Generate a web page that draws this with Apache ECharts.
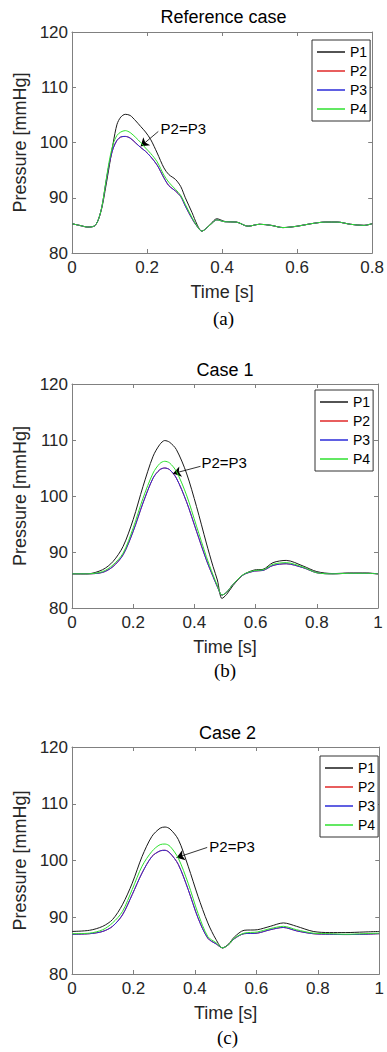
<!DOCTYPE html>
<html><head><meta charset="utf-8">
<script src="https://cdn.jsdelivr.net/npm/echarts@6/dist/echarts.min.js"></script>
<style>html,body{margin:0;padding:0;background:#fff}#c{width:387px;height:1052px}</style>
</head><body><div id="c"></div>
<script>
// ---------- Data ----------
const panelTitles = ['Reference case', 'Case 1', 'Case 2'];
const panelTags = ['(a)', '(b)', '(c)'];
const seriesNames = ['P1', 'P2', 'P3', 'P4'];
const xMax = [0.8, 1, 1];
const yTicks = [80, 90, 100, 110, 120];

// Panel (a) - Reference case
const tA = [0, 0.02, 0.042, 0.06, 0.07, 0.08, 0.09, 0.1, 0.11, 0.12, 0.13, 0.142, 0.155, 0.17, 0.183, 0.196, 0.21, 0.227, 0.245, 0.258, 0.276, 0.29, 0.302, 0.32, 0.333, 0.346, 0.36, 0.37, 0.386, 0.408, 0.438, 0.469, 0.5, 0.531, 0.562, 0.6, 0.637, 0.676, 0.707, 0.742, 0.778, 0.8];
const p1A = [85.3, 85.0, 84.7, 84.9, 86.0, 88.3, 92.0, 96.0, 100.0, 103.3, 104.6, 105.1, 104.9, 103.9, 102.9, 101.9, 100.5, 98.1, 95.4, 94.2, 93.3, 92.0, 90.0, 87.3, 85.2, 83.95, 84.6, 85.3, 86.2, 85.7, 85.6, 84.85, 85.2, 85.0, 84.6, 84.85, 85.3, 85.6, 85.6, 85.2, 85.0, 85.3];
const p2A = [85.3, 85.0, 84.7, 84.9, 86.0, 88.5, 92.6, 96.4, 99.0, 100.4, 101.0, 101.1, 100.8, 99.9, 99.1, 98.4, 97.4, 95.9, 93.6, 92.2, 91.2, 90.2, 88.5, 86.2, 84.85, 83.95, 84.6, 85.2, 86.0, 85.65, 85.6, 84.85, 85.2, 85.0, 84.6, 84.85, 85.3, 85.6, 85.6, 85.2, 85.0, 85.3];
const p3A = [85.3, 85.0, 84.7, 84.9, 86.0, 88.5, 92.6, 96.4, 99.0, 100.4, 101.0, 101.1, 100.8, 99.9, 99.1, 98.4, 97.4, 95.9, 93.6, 92.2, 91.2, 90.2, 88.5, 86.2, 84.85, 83.95, 84.6, 85.2, 86.0, 85.65, 85.6, 84.85, 85.2, 85.0, 84.6, 84.85, 85.3, 85.6, 85.6, 85.2, 85.0, 85.3];
const p4A = [85.3, 85.0, 84.7, 84.9, 86.0, 88.5, 92.8, 96.9, 99.8, 101.3, 101.9, 102.15, 101.8, 100.9, 100.0, 99.0, 98.0, 96.5, 94.1, 92.8, 91.5, 90.4, 88.8, 86.4, 84.9, 83.95, 84.6, 85.2, 86.0, 85.65, 85.6, 84.85, 85.2, 85.0, 84.6, 84.85, 85.3, 85.6, 85.6, 85.2, 85.0, 85.3];

// Panel (b) - Case 1
const tB = [0, 0.05, 0.1, 0.134, 0.167, 0.2, 0.232, 0.265, 0.287, 0.303, 0.319, 0.341, 0.374, 0.407, 0.439, 0.461, 0.475, 0.49, 0.505, 0.526, 0.559, 0.597, 0.624, 0.657, 0.7, 0.755, 0.8, 0.853, 0.907, 0.962, 1];
const p1B = [86.1, 86.1, 86.84, 88.3, 91.0, 95.8, 101.7, 107.1, 109.2, 109.9, 109.6, 108.3, 104.1, 98.1, 91.6, 87.4, 85.0, 81.7, 82.4, 84.0, 85.9, 86.8, 86.9, 88.1, 88.5, 87.5, 86.5, 86.15, 86.25, 86.25, 86.1];
const p2B = [86.1, 86.1, 86.36, 87.4, 89.5, 93.7, 98.75, 103.2, 104.7, 105.0, 104.7, 103.2, 99.0, 93.7, 88.6, 85.6, 83.8, 82.3, 82.8, 84.2, 85.9, 86.6, 86.7, 87.6, 87.9, 87.2, 86.3, 86.1, 86.2, 86.2, 86.1];
const p3B = [86.1, 86.1, 86.36, 87.4, 89.5, 93.7, 98.75, 103.2, 104.7, 105.0, 104.7, 103.2, 99.0, 93.7, 88.6, 85.6, 83.8, 82.3, 82.8, 84.2, 85.9, 86.6, 86.7, 87.6, 87.9, 87.2, 86.3, 86.1, 86.2, 86.2, 86.1];
const p4B = [86.1, 86.1, 86.5, 87.7, 89.8, 94.3, 99.6, 104.1, 105.8, 106.2, 105.9, 104.4, 100.2, 94.6, 89.2, 85.9, 84.0, 82.3, 82.8, 84.2, 85.95, 86.7, 86.8, 87.8, 88.1, 87.3, 86.3, 86.1, 86.2, 86.2, 86.1];

// Panel (c) - Case 2
const tC = [0, 0.057, 0.1, 0.132, 0.164, 0.196, 0.228, 0.26, 0.287, 0.303, 0.319, 0.346, 0.378, 0.41, 0.442, 0.469, 0.49, 0.51, 0.528, 0.56, 0.603, 0.645, 0.688, 0.731, 0.785, 0.838, 0.891, 0.95, 1];
const p1C = [87.5, 87.7, 88.4, 89.6, 92.2, 96.0, 100.7, 104.25, 105.7, 105.9, 105.55, 103.7, 99.0, 93.7, 89.0, 86.05, 84.6, 85.3, 86.5, 87.7, 87.8, 88.4, 89.0, 88.4, 87.5, 87.3, 87.3, 87.4, 87.5];
const p2C = [87.0, 87.1, 87.5, 88.4, 90.4, 94.0, 97.8, 100.7, 101.7, 101.8, 101.3, 99.3, 94.9, 89.9, 86.3, 85.3, 84.6, 85.2, 86.2, 87.1, 87.2, 87.8, 88.2, 87.6, 87.1, 87.0, 86.95, 87.0, 87.1];
const p3C = [87.0, 87.1, 87.5, 88.4, 90.4, 94.0, 97.8, 100.7, 101.7, 101.8, 101.3, 99.3, 94.9, 89.9, 86.3, 85.3, 84.6, 85.2, 86.2, 87.1, 87.2, 87.8, 88.2, 87.6, 87.1, 87.0, 86.95, 87.0, 87.1];
const p4C = [87.1, 87.2, 87.8, 89.0, 91.0, 94.9, 99.0, 101.6, 102.8, 102.9, 102.5, 100.4, 96.0, 90.7, 86.6, 85.5, 84.6, 85.2, 86.3, 87.2, 87.4, 88.0, 88.4, 87.8, 87.2, 87.1, 87.0, 87.1, 87.2];

// Annotation "P2=P3": arrow start, arrow tip, text anchor (data units)
const arrowStart = [[0.23, 102.0], [0.42, 105.3], [0.44, 102.3]];
const arrowTip = [[0.183, 99.3], [0.33, 104.0], [0.34, 100.5]];
const noteAnchor = [[0.236, 102.5], [0.423, 106.0], [0.447, 102.5]];
const noteText = 'P2=P3';

// ---------- Chart ----------
const FONT = 'Liberation Sans, Arial, Helvetica, sans-serif';
const colors = ['#1a1a1a', '#e02828', '#2b2bd8', '#2fe02f'];
const times = [tA, tB, tC];
const values = [[p1A, p2A, p3A, p4A], [p1B, p2B, p3B, p4B], [p1C, p2C, p3C, p4C]];

const grids = [
  {left: 72, top: 32, width: 303, height: 221},
  {left: 72, top: 384, width: 306, height: 224},
  {left: 72, top: 747, width: 311, height: 227}
];
const legendPos = [{left: 312, top: 40}, {left: 315, top: 390}, {left: 320, top: 756}];
const titleY = [17, 370, 733];
const tagY = [318, 670, 1037];
const axisCol = '#808080';

const xAxes = [], yAxes = [], series = [], legends = [], graphics = [];
for (let g = 0; g < 3; g++) {
  for (const primary of [true, false]) {
    xAxes.push({
      type: 'value', gridIndex: g, min: 0, max: xMax[g], interval: 0.2,
      position: primary ? 'bottom' : 'top',
      axisLine: {show: true, onZero: false, lineStyle: {color: axisCol, width: 1}},
      axisTick: {show: true, inside: true, length: 4, lineStyle: {color: axisCol}},
      axisLabel: {show: primary, fontSize: 17, color: '#262626', margin: 6, fontFamily: FONT},
      splitLine: {show: false},
      name: primary ? 'Time [s]' : '', nameLocation: 'middle', nameGap: 30,
      nameTextStyle: {fontSize: 18, color: '#262626', fontFamily: FONT}
    });
    yAxes.push({
      type: 'value', gridIndex: g, min: yTicks[0], max: yTicks[yTicks.length - 1], interval: 10,
      position: primary ? 'left' : 'right',
      axisLine: {show: true, onZero: false, lineStyle: {color: axisCol, width: 1}},
      axisTick: {show: true, inside: true, length: 4, lineStyle: {color: axisCol}},
      axisLabel: {show: primary, fontSize: 17, color: '#262626', margin: 4, fontFamily: FONT},
      splitLine: {show: false},
      name: primary ? 'Pressure [mmHg]' : '', nameLocation: 'middle', nameGap: 36,
      nameTextStyle: {fontSize: 18, color: '#262626', fontFamily: FONT}
    });
  }
  for (let s = 0; s < 4; s++) {
    const ser = {
      type: 'line', name: seriesNames[s], xAxisIndex: g * 2, yAxisIndex: g * 2,
      data: times[g].map((t, i) => [t, values[g][s][i]]),
      symbol: 'none', smooth: 0.3,
      color: colors[s], lineStyle: {width: 1, color: colors[s]},
      z: 2 + s
    };
    if (s === 0) {
      ser.markLine = {
        silent: true, symbolSize: 8, animation: false,
        lineStyle: {color: '#000', width: 0.8, type: 'solid'},
        label: {show: false},
        data: [[{coord: arrowStart[g], symbol: 'none'}, {coord: arrowTip[g], symbol: 'arrow'}]]
      };
      ser.markPoint = {
        silent: true, symbol: 'circle', symbolSize: 0, animation: false,
        label: {show: true, position: 'right', distance: 0, formatter: noteText, fontSize: 15, color: '#000', fontFamily: FONT},
        data: [{coord: noteAnchor[g]}]
      };
    }
    series.push(ser);
  }
  legends.push({
    orient: 'vertical', left: legendPos[g].left, top: legendPos[g].top,
    data: seriesNames, icon: 'rect', itemWidth: 28, itemHeight: 1.5, itemGap: 3,
    padding: [4, 3, 4, 5], borderColor: '#333', borderWidth: 1, backgroundColor: '#fff',
    selectedMode: false,
    textStyle: {fontSize: 14, color: '#000', fontFamily: FONT, lineHeight: 16}
  });
  graphics.push({
    type: 'text', x: grids[g].left + grids[g].width / 2, y: titleY[g],
    style: {text: panelTitles[g], align: 'center', verticalAlign: 'middle', fontSize: 18, fontWeight: 'normal', fontFamily: FONT, fill: '#000'}
  });
  graphics.push({
    type: 'text', x: grids[g].left + grids[g].width / 2, y: tagY[g],
    style: {text: panelTags[g], align: 'center', verticalAlign: 'middle', fontSize: 19, fontWeight: 'normal', fontFamily: 'Liberation Serif, Times New Roman, serif', fill: '#000'}
  });
}

const chart = echarts.init(document.getElementById('c'), null, {renderer: 'svg'});
chart.setOption({
  animation: false,
  backgroundColor: '#fff',
  grid: grids,
  xAxis: xAxes,
  yAxis: yAxes,
  legend: legends,
  graphic: graphics,
  series: series
});
</script>
</body></html>
